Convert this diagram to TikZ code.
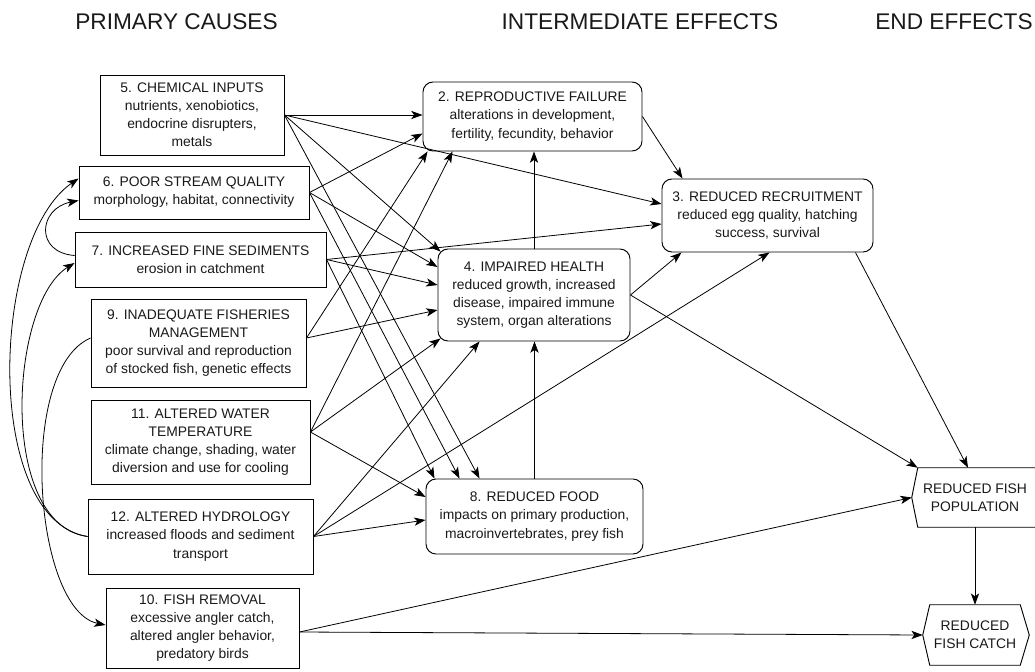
\documentclass[tikz,border=0pt]{standalone}
\usepackage{fontspec}
\setmainfont{Liberation Sans}
\usetikzlibrary{arrows.meta,calc}
\begin{document}
\begin{tikzpicture}[x=0.75pt,y=-0.75pt,
  txt/.style={font=\fontsize{10.4}{13.6}\selectfont, align=center, inner sep=0pt, text=black!90},
  lbox/.style={txt, draw, line width=0.7pt},
  rbox/.style={txt, draw, line width=0.7pt, rounded corners=7.5pt},
  hd/.style={font=\fontsize{17}{20}\selectfont, inner sep=0pt, text=black!90},
  ar/.style={-{Stealth[length=8.5pt,width=6.2pt,inset=2.2pt]}, line width=0.6pt},
  ln/.style={line width=0.6pt}]
\path[use as bounding box] (0,0) rectangle (1035,671);

% headings
\node[hd] (h1) at (176.5,21.5) {PRIMARY CAUSES};
\node[hd] (h2) at (640,21.5) {INTERMEDIATE EFFECTS};
\node[hd] (h3) at (954,21.5) {END EFFECTS};

% primary causes
\node[lbox, minimum width=184*0.75pt, minimum height=80*0.75pt] (b5) at (192,115)
  {5. CHEMICAL INPUTS\\nutrients, xenobiotics,\\endocrine disrupters,\\metals};
\node[lbox, minimum width=230*0.75pt, minimum height=53*0.75pt] (b6) at (194,192.5)
  {6. POOR STREAM QUALITY\\morphology, habitat, connectivity};
\node[lbox, minimum width=251*0.75pt, minimum height=55*0.75pt] (b7) at (200.5,259.5)
  {7. INCREASED FINE SEDIMENTS\\erosion in catchment};
\node[lbox, minimum width=215*0.75pt, minimum height=88*0.75pt] (b9) at (198.5,343)
  {9. INADEQUATE FISHERIES\\MANAGEMENT\\poor survival and reproduction\\of stocked fish, genetic effects};
\node[lbox, minimum width=219*0.75pt, minimum height=84*0.75pt] (b11) at (200.5,442)
  {11. ALTERED WATER\\TEMPERATURE\\climate change, shading, water\\diversion and use for cooling};
\node[lbox, minimum width=225*0.75pt, minimum height=75*0.75pt] (b12) at (200.5,536.5)
  {12. ALTERED HYDROLOGY\\increased floods and sediment\\transport};
\node[lbox, minimum width=193*0.75pt, minimum height=80*0.75pt] (b10) at (202.5,628)
  {10. FISH REMOVAL\\excessive angler catch,\\altered angler behavior,\\predatory birds};

% intermediate effects
\node[rbox, minimum width=219*0.75pt, minimum height=69*0.75pt] (b2) at (532.5,116.5)
  {2. REPRODUCTIVE FAILURE\\alterations in development,\\fertility, fecundity, behavior};
\node[rbox, minimum width=192*0.75pt, minimum height=92*0.75pt] (b4) at (534,295)
  {4. IMPAIRED HEALTH\\reduced growth, increased\\disease, impaired immune\\system, organ alterations};
\node[rbox, minimum width=211*0.75pt, minimum height=73*0.75pt] (b3) at (767.5,215.5)
  {3. REDUCED RECRUITMENT\\reduced egg quality, hatching\\success, survival};
\node[rbox, minimum width=217*0.75pt, minimum height=75*0.75pt] (b8) at (534.5,516.5)
  {8. REDUCED FOOD\\impacts on primary production,\\macroinvertebrates, prey fish};

% end effects
\node[txt, minimum width=114*0.75pt, minimum height=59*0.75pt] (pop) at (975,497.5)
  {REDUCED FISH\\POPULATION};
\draw[line width=0.7pt] (pop.north west) ++(130,0) -- (pop.north west) -- ($(pop.west)+(-6,0)$)
  -- (pop.south west) -- ++(130,0);
\node[txt, minimum width=90*0.75pt, minimum height=60*0.75pt] (catch) at (975,635)
  {REDUCED\\FISH CATCH};
\draw[line width=0.7pt] (catch.north west) -- (catch.north east) -- ($(catch.east)+(9,0)$)
  -- (catch.south east) -- (catch.south west) -- ($(catch.west)+(-7,0)$) -- cycle;

% source points
\coordinate (s9) at ($(b9.east)+(0,-5)$);
\coordinate (s11) at ($(b11.east)+(0,-10)$);
\coordinate (s10) at ($(b10.east)+(0,4)$);

% from 5
\draw[ar] (b5.east) -- (b5.east -| b2.west);
\draw[ar] (b5.east) -- ($(b3.west)+(0,-11.5)$);
\draw[ar] (b5.east) -- ($(b4.north west)+(3,3)$);
\draw[ar] (b5.east) -- ($(b8.north west)+(54,0)$);
% from 6
\draw[ar] (b6.east) -- ($(b2.west)+(0,17)$);
\draw[ar] (b6.east) -- ($(b4.west)+(0,-28)$);
\draw[ar] (b6.east) -- ($(b8.north west)+(34,0)$);
% from 7
\draw[ar] (b7.east) -- ($(b3.west)+(0,8.5)$);
\draw[ar] (b7.east) -- ($(b4.west)+(0,-10)$);
\draw[ar] (b7.east) -- ($(b8.north west)+(9,0)$);
% from 9
\draw[ar] (s9) -- ($(b2.south west)+(5,0)$);
\draw[ar] (s9) -- ($(b4.west)+(0,15)$);
% from 11
\draw[ar] (s11) -- ($(b2.south west)+(30,0)$);
\draw[ar] (s11) -- ($(b4.south west)+(3,-3)$);
\draw[ar] (s11) -- ($(b8.west)+(0,-19.5)$);
% from 12
\draw[ar] (b12.east) -- ($(b4.south west)+(42,0)$);
\draw[ar] (b12.east) -- ($(b8.west)+(0,3.5)$);
\draw[ar] (b12.east) -- ($(b3.south)+(2,0)$);
% between effects
\draw[ar] (b4.north) -- (b4.north |- b2.south);
\draw[ar] (b8.north) -- (b8.north |- b4.south);
\draw[ar] (b2.east) -- ($(b3.north west)+(21,0)$);
\draw[ar] (b4.east) -- ($(b3.south west)+(20,0)$);
\draw[ar] (b4.east) -- (pop.north west);
\draw[ar] ($(b3.south east)+(-18,0)$) -- ($(pop.north)+(-7,0)$);
\draw[ar] (s10) -- ($(pop.west)+(-6,0)$);
\draw[ar] (s10) -- ($(catch.west)+(-7,0)$);
\draw[ar] (pop.south) -- (catch.north);

% left-side curves
\draw[ar] ($(b7.west)+(0,-4)$) .. controls +(-40,-3) and +(-40,8) .. ($(b6.west)+(0,8)$);
\draw[ar] (b12.west) .. controls +(-105,-17) and +(-88,60) .. ($(b6.west)+(0,-14)$);
\draw[ar] (b12.west) .. controls +(-90,-12) and +(-65,40) .. ($(b7.west)+(0,3.5)$);
\draw[ar] ($(b9.west)+(0,-5)$) .. controls +(-74,32) and +(-72,-15) .. ($(b10.west)+(0,-3)$);
\end{tikzpicture}
\end{document}
